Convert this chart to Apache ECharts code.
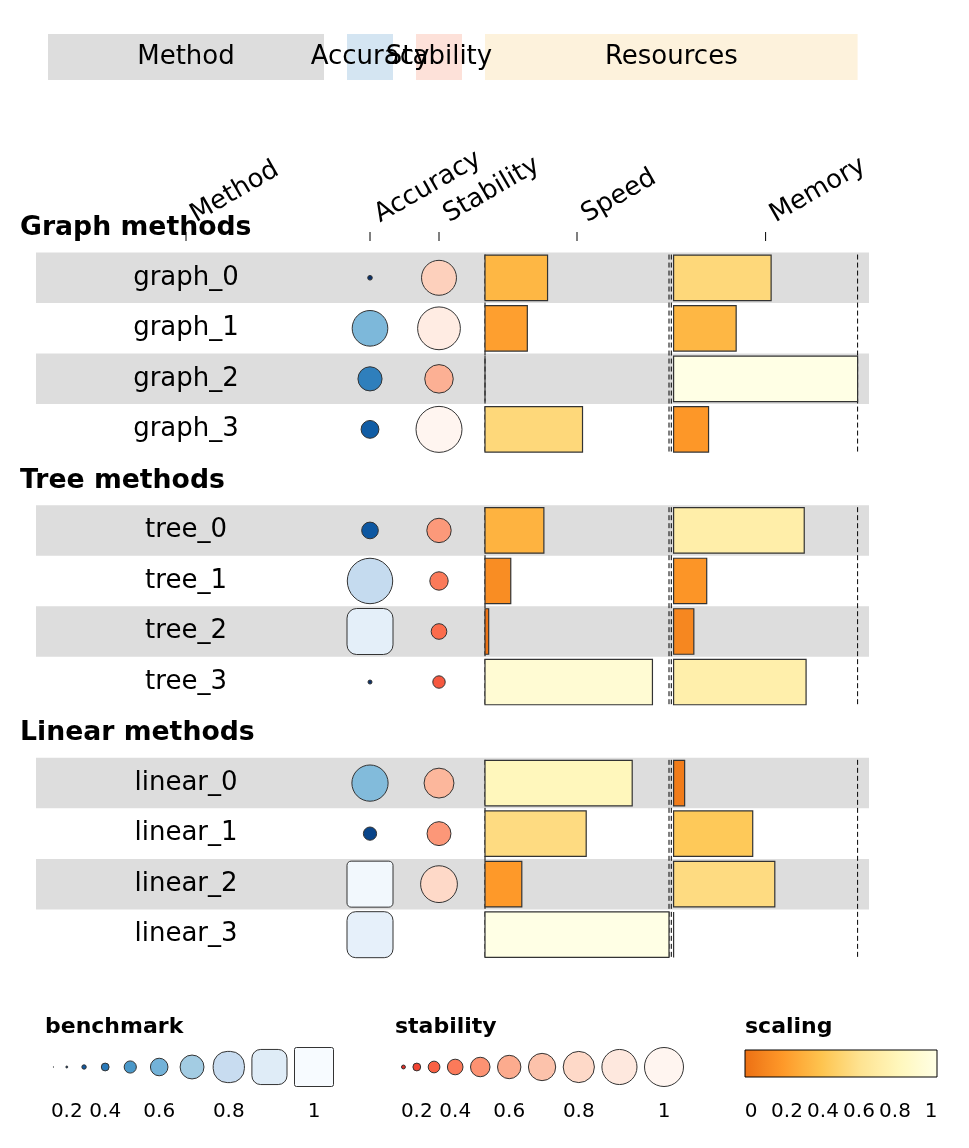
<!DOCTYPE html>
<html>
<head>
<meta charset="utf-8">
<script src="https://cdn.jsdelivr.net/npm/echarts@6.0.0/dist/echarts.min.js"></script>
<style>
html,body{margin:0;padding:0;background:#ffffff;overflow:hidden;}
#chart{width:969px;height:1148px;}
</style>
</head>
<body>
<div id="chart"></div>
<script>
// ---------------- data ----------------
const groupNames = ['Graph methods', 'Tree methods', 'Linear methods'];
const methods = ['graph_0','graph_1','graph_2','graph_3','tree_0','tree_1','tree_2','tree_3','linear_0','linear_1','linear_2','linear_3'];
const methodGroup = [0,0,0,0,1,1,1,1,2,2,2,2];
const accuracy  = [0.08,0.62,0.42,0.31,0.29,0.79,0.92,0.07,0.63,0.23,0.98,0.93];
const stability = [0.76,0.93,0.62,1.00,0.53,0.40,0.34,0.27,0.65,0.52,0.80,null];
const speed     = [0.34,0.23,0.00,0.53,0.32,0.14,0.02,0.91,0.80,0.55,0.20,1.00];
const memory    = [0.53,0.34,1.00,0.19,0.71,0.18,0.11,0.72,0.06,0.43,0.55,0.00];
const columnLabels = ['Method','Accuracy','Stability','Speed','Memory'];
const columnGroupLabels = ['Method','Accuracy','Stability','Resources'];
const legendTitles = ['benchmark','stability','scaling'];
const legendValues = [0.1,0.2,0.3,0.4,0.5,0.6,0.7,0.8,0.9,1.0];
const legendTickLabels = ['','0.2','','0.4','','0.6','','0.8','','1'];
const scalingTickLabels = ['0','0.2','0.4','0.6','0.8','1'];

// ---------------- layout / style ----------------
const W = 969, H = 1148, UNIT = 46, ROWH = 50.53, X0PX = 48, Y0PX = 202;
const toUx = px => (px - X0PX) / UNIT;
const toUy = px => (px - Y0PX) / ROWH;
const colSpan = [[0,6],[6.5,7.5],[8,9],[9.5,13.5],[13.6,17.6]];
const groupSpan = [[0,6],[6.5,7.5],[8,9],[9.5,17.6]];
const groupFill = ['#dddddd','#d4e5f2','#fde1d9','#fdf2dc'];
const BAND = [toUx(36), toUx(869)];
const FONT = '"DejaVu Sans", sans-serif';
const STROKE = '#333333';

function hex(h){ return [1,3,5].map(k => parseInt(h.substr(k,2),16)); }
function ramp(stops){
  const c = stops.map(hex);
  return t => {
    t = Math.max(0, Math.min(1, t));
    const n = c.length - 1, f = t * n, k = Math.min(n - 1, Math.floor(f)), u = f - k;
    const v = c[k].map((a, j) => Math.round(a + (c[k+1][j] - a) * u));
    return 'rgb(' + v.join(',') + ')';
  };
}
const Blues = ramp(['#f7fbff','#deebf7','#c6dbef','#9ecae1','#6baed6','#4292c6','#2171b5','#08519c','#08306b']);
const Reds = ramp(['#fff5f0','#fee0d2','#fcbba1','#fc9272','#fb6a4a','#ef3b2c','#cb181d','#a50f15','#67000d']);
const YlOrBr = ramp(['#ffffe5','#fff7bc','#fee391','#fec44f','#fe9929','#ec7014','#cc4c02','#993404','#662506']);
const accColor = v => Blues(Math.min(1, 1.2 * (1 - v)));
const stabColor = v => Reds(0.75 * (1 - v));
const scaleColor = v => YlOrBr(0.625 * (1 - v));

// rows
const posInGroup = [];
const rowOf = methods.map((m, i) => {
  let p = 0; for (let j = 0; j < i; j++) if (methodGroup[j] === methodGroup[i]) p++;
  posInGroup[i] = p;
  return methodGroup[i] * 5 + 1 + p;
});

function funky(cx, cy, unitPx, v, fill){
  if (v < 0.8) {
    const d = unitPx * v / 0.8;
    return {type:'circle', shape:{cx, cy, r:d/2}, style:{fill, stroke:STROKE, lineWidth:1}};
  }
  const t = (v - 0.8) / 0.2;
  const s = unitPx;
  const r = s * (0.9 - 0.8 * t) / 2;
  return {type:'rect', shape:{x:cx - s/2, y:cy - s/2, width:s, height:s, r}, style:{fill, stroke:STROKE, lineWidth:1}};
}

function cs(name, data, renderItem, z){
  return {type:'custom', name, data, renderItem, clip:false, silent:true, z, animation:false};
}
const rowData = methods.map((m, i) => [i, rowOf[i]]);

const series = [
  // row bands
  cs('bands', rowData, (p, api) => {
    const i = api.value(0), r = api.value(1);
    if (posInGroup[i] % 2 !== 0) return {type:'group', children:[]};
    const a = api.coord([BAND[0], r]), b = api.coord([BAND[1], r + 1]);
    return {type:'rect', shape:{x:a[0], y:a[1], width:b[0]-a[0], height:b[1]-a[1]}, style:{fill:'#dddddd'}};
  }, 1),
  // dashed guide lines of the bar columns
  cs('guides', groupNames.map((g, k) => [k, k*5]), (p, api) => {
    const k = api.value(0);
    const top = k*5 + 1 + 0.04, bot = k*5 + 5 - 0.04;
    const xs = [colSpan[3][0], colSpan[3][1], colSpan[4][0] - 0.05, colSpan[4][1]];
    return {type:'group', children: xs.map(x => {
      const a = api.coord([x, top]), b = api.coord([x, bot]);
      return {type:'line', shape:{x1:a[0], y1:a[1], x2:b[0], y2:b[1]}, style:{stroke:'#000', lineWidth:1, lineDash:[5,3]}};
    })};
  }, 2),
  // bars
  cs('bars', methods.flatMap((m, i) => [[i, rowOf[i], 3], [i, rowOf[i], 4]]), (p, api) => {
    const i = api.value(0), r = api.value(1), c = api.value(2);
    const v = c === 3 ? speed[i] : memory[i];
    if (v == null) return {type:'group', children:[]};
    const x0 = colSpan[c][0];
    const a = api.coord([x0, r + 0.05]), b = api.coord([x0 + 4 * v, r + 0.95]);
    return {type:'rect', shape:{x:a[0], y:a[1], width:b[0]-a[0], height:b[1]-a[1]}, style:{fill:scaleColor(v), stroke:STROKE, lineWidth:1.2}};
  }, 3),
  // accuracy funky rectangles
  cs('accuracy', rowData, (p, api) => {
    const i = api.value(0), r = api.value(1), v = accuracy[i];
    if (v == null) return {type:'group', children:[]};
    const c = api.coord([(colSpan[1][0]+colSpan[1][1])/2, r + 0.5]);
    return funky(c[0], c[1], api.size([1, 0])[0], v, accColor(v));
  }, 3),
  // stability circles
  cs('stability', rowData, (p, api) => {
    const i = api.value(0), r = api.value(1), v = stability[i];
    if (v == null) return {type:'group', children:[]};
    const c = api.coord([(colSpan[2][0]+colSpan[2][1])/2, r + 0.5]);
    const d = api.size([1, 0])[0] * v;
    return {type:'circle', shape:{cx:c[0], cy:c[1], r:d/2}, style:{fill:stabColor(v), stroke:STROKE, lineWidth:1}};
  }, 3),
  // method labels
  cs('methodLabels', rowData, (p, api) => {
    const i = api.value(0), r = api.value(1);
    const c = api.coord([(colSpan[0][0]+colSpan[0][1])/2, r + 0.5]);
    return {type:'text', x:c[0], y:c[1], style:{text:methods[i], fontSize:26, fontFamily:FONT, fill:'#000', align:'center', verticalAlign:'middle'}};
  }, 4),
  // group titles
  cs('groupTitles', groupNames.map((g, k) => [k, k*5]), (p, api) => {
    const k = api.value(0);
    const c = api.coord([toUx(20), k*5 + 0.5]);
    return {type:'text', x:c[0], y:c[1] + 1, style:{text:groupNames[k], fontSize:26.7, fontWeight:'bold', fontFamily:FONT, fill:'#000', align:'left', verticalAlign:'middle'}};
  }, 4),
  // column group header bars
  cs('colGroups', columnGroupLabels.map((g, k) => [k, 0]), (p, api) => {
    const k = api.value(0);
    const a = api.coord([groupSpan[k][0], toUy(34)]), b = api.coord([groupSpan[k][1], toUy(80)]);
    return {type:'group', children:[
      {type:'rect', shape:{x:a[0], y:a[1], width:b[0]-a[0], height:b[1]-a[1]}, style:{fill:groupFill[k]}, z2:0},
      {type:'text', x:(a[0]+b[0])/2, y:(a[1]+b[1])/2, style:{text:columnGroupLabels[k], fontSize:26, fontFamily:FONT, fill:'#000', align:'center', verticalAlign:'middle'}, z2:1}
    ]};
  }, 4),
  // column labels & ticks
  cs('colLabels', columnLabels.map((g, k) => [k, 0]), (p, api) => {
    const k = api.value(0);
    const xc = (colSpan[k][0] + colSpan[k][1]) / 2;
    const t1 = api.coord([xc, toUy(232)]), t2 = api.coord([xc, toUy(241)]);
    const an = api.coord([xc, toUy(228)]);
    return {type:'group', children:[
      {type:'line', shape:{x1:t1[0], y1:t1[1], x2:t2[0], y2:t2[1]}, style:{stroke:'#000', lineWidth:1}},
      {type:'text', x:an[0] + 13, y:an[1], rotation:Math.PI/6, style:{text:columnLabels[k], fontSize:26, fontFamily:FONT, fill:'#000', align:'left', verticalAlign:'bottom'}}
    ]};
  }, 4)
];

// ---------------- legends (graphic) ----------------
const graphics = [];
const LEG_X = [45, 395, 745], LEG_TITLE_Y = 1027, LEG_ITEM_Y = 1067, LEG_LABEL_Y = 1112;
const LEG_CELL = 39, LEG_GAP = 7.5;
legendTitles.forEach((t, k) => {
  graphics.push({type:'text', x:LEG_X[k], y:LEG_TITLE_Y, style:{text:t, fontSize:22, fontWeight:'bold', fontFamily:FONT, fill:'#000', align:'left', verticalAlign:'middle'}});
});
[0, 1].forEach(k => {
  let x = LEG_X[k] + 6.5;
  legendValues.forEach((v, j) => {
    const w = LEG_CELL * v;
    const cx = x + w / 2;
    if (k === 0) {
      graphics.push(funky(cx, LEG_ITEM_Y, w, v, accColor(v)));
    } else {
      graphics.push({type:'circle', shape:{cx, cy:LEG_ITEM_Y, r:w/2}, style:{fill:stabColor(v), stroke:STROKE, lineWidth:1}});
    }
    if (legendTickLabels[j]) {
      graphics.push({type:'text', x:cx, y:LEG_LABEL_Y, style:{text:legendTickLabels[j], fontSize:20, fontFamily:FONT, fill:'#000', align:'center', verticalAlign:'middle'}});
    }
    x += w + LEG_GAP;
  });
});
// colour bar
const CB = {x:745, y:1050, w:192, h:27};
const stops = [];
for (let s = 0; s <= 20; s++) stops.push({offset:s/20, color:scaleColor(s/20)});
graphics.push({type:'rect', shape:{x:CB.x, y:CB.y, width:CB.w, height:CB.h}, style:{fill:{type:'linear', x:0, y:0, x2:1, y2:0, colorStops:stops}, stroke:'#000', lineWidth:1}});
scalingTickLabels.forEach((t, j) => {
  graphics.push({type:'text', x:CB.x + 6 + j * (CB.w - 12) / (scalingTickLabels.length - 1), y:LEG_LABEL_Y, style:{text:t, fontSize:20, fontFamily:FONT, fill:'#000', align:'center', verticalAlign:'middle'}});
});

const chart = echarts.init(document.getElementById('chart'), null, {renderer:'canvas', width:W, height:H});
chart.setOption({
  backgroundColor:'#ffffff',
  animation:false,
  grid:{left:0, top:0, width:W, height:H, containLabel:false},
  xAxis:{type:'value', min:-X0PX/UNIT, max:(W - X0PX)/UNIT, show:false},
  yAxis:{type:'value', inverse:true, min:-Y0PX/ROWH, max:(H - Y0PX)/ROWH, show:false},
  graphic:graphics.map(g => Object.assign({silent:true}, g)),
  series
});
</script>
</body>
</html>
